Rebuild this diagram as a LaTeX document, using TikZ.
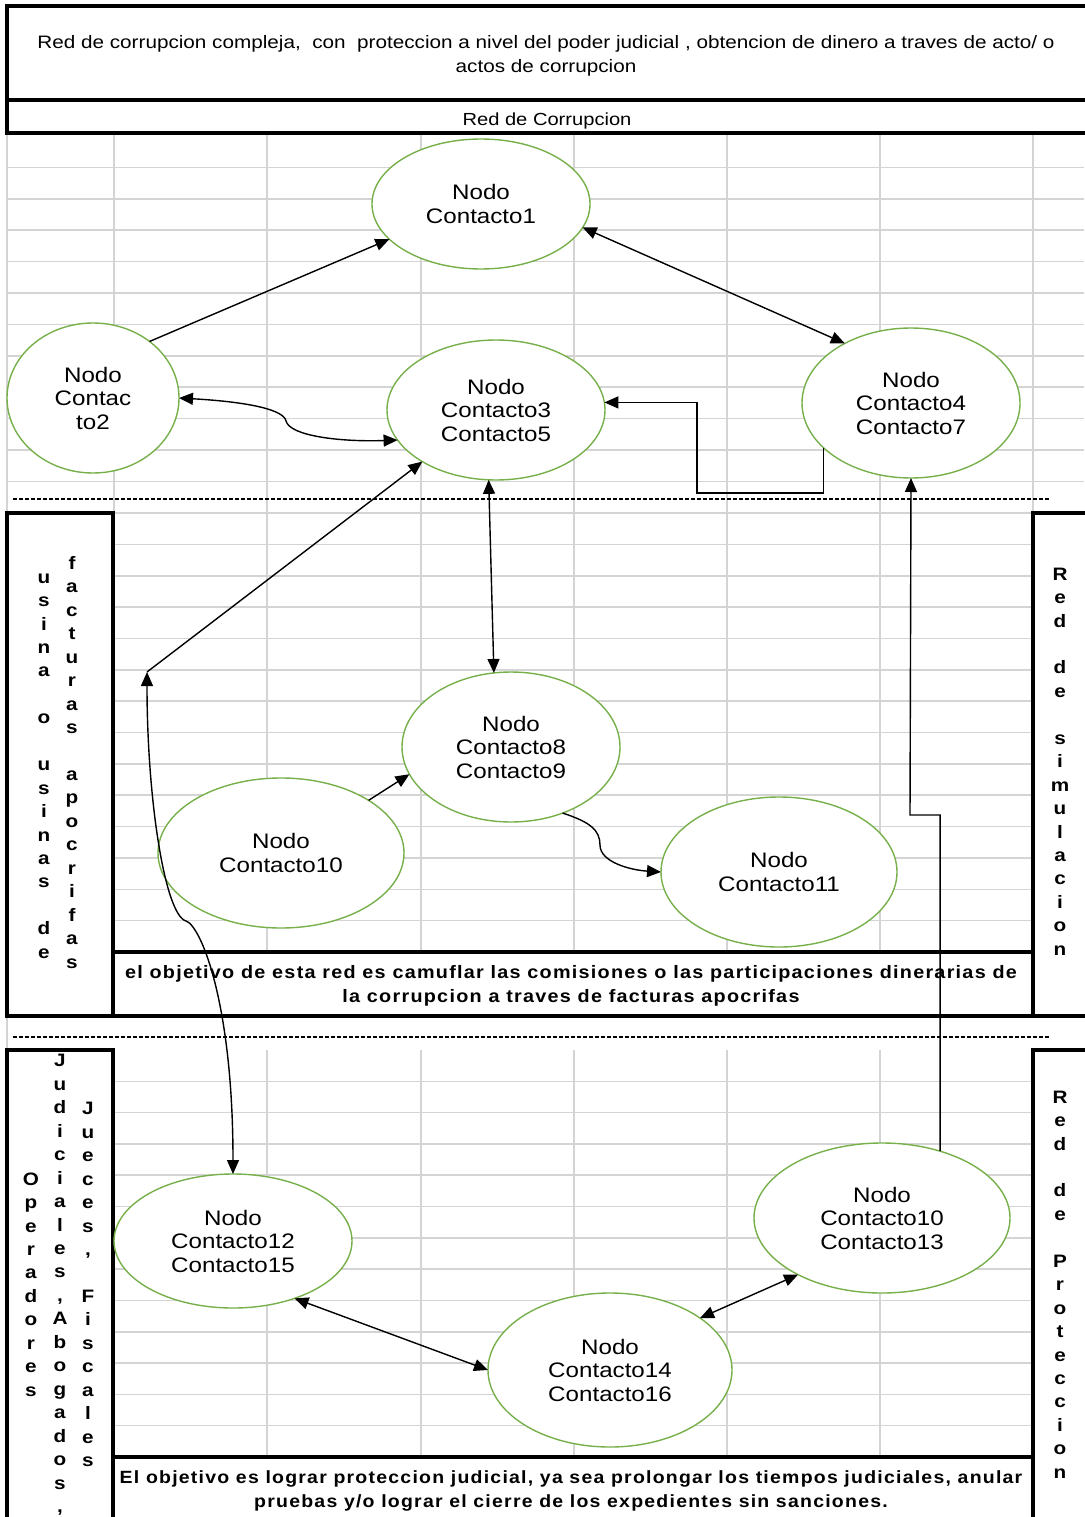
\documentclass[tikz,border=0pt]{standalone}
\usepackage{fontspec}
\setmainfont{Liberation Sans}[FakeStretch=1.15]
\newfontfamily\capfont{Liberation Sans}[FakeStretch=1.1,LetterSpace=7]
\usetikzlibrary{shapes.geometric,arrows.meta}
\definecolor{verdenodo}{RGB}{119,176,74}
\definecolor{gris}{RGB}{212,212,212}
\tikzset{
  rejilla/.style={draw=gris, line width=1.6pt},
  caja/.style={draw=black, line width=3.4pt},
  corte/.style={draw=black, line width=1.6pt, dash pattern=on 4pt off 2pt},
  nodo/.style={ellipse, draw=verdenodo, line width=1.4pt, fill=white,
    inner sep=0pt, outer sep=0pt, align=center,
    font=\fontsize{21}{23.5}\selectfont},
  letras/.style={inner sep=0pt, align=center,
    font=\bfseries\fontsize{18}{23.45}\selectfont},
  leyenda/.style={inner sep=0pt, align=center,
    font=\capfont\bfseries\fontsize{18}{24}\selectfont},
  flecha/.style={line width=1.4pt}
}
\begin{document}
\begin{tikzpicture}[x=1pt, y=-1pt, >={Triangle[length=14pt,width=12pt]}]
\useasboundingbox (0,0) rectangle (1084,1517);
% rejilla de la hoja
\foreach \k in {1,...,12}
  \draw[rejilla] (7,136+31.4*\k) -- (1084,136+31.4*\k);
\foreach \x in {7,114,267,421,574,727,880,1033}
  \draw[rejilla] (\x,133) -- (\x,513);
\foreach \k in {1,...,13}
  \draw[rejilla] (113,513+31.36*\k) -- (1033,513+31.36*\k);
\foreach \k in {1,...,12}
  \draw[rejilla] (113,1050+31.3*\k) -- (1033,1050+31.3*\k);
\foreach \x in {267,421,574,727,880} {
  \draw[rejilla] (\x,513) -- (\x,952);
  \draw[rejilla] (\x,1050) -- (\x,1457);
}
\draw[rejilla] (7,1016) -- (7,1050);

% cajas
\draw[caja] (7,6) rectangle (1090,100);
\draw[caja] (7,100) rectangle (1090,133);
\draw[corte] (13,499) -- (1050,499);
\draw[corte] (13,1037) -- (1050,1037);
\draw[caja, fill=white] (7,513) rectangle (113,1016);
\draw[caja, fill=white] (1033,513) rectangle (1090,1016);
\draw[caja, fill=white] (113,952) rectangle (1033,1016);
\draw[caja, fill=white] (7,1050) rectangle (113,1530);
\draw[caja, fill=white] (1033,1050) rectangle (1090,1530);
\draw[caja, fill=white] (113,1457) rectangle (1033,1530);

% textos
\node[align=center, font=\fontsize{18}{24}\selectfont] (titulo) at (546,56)
  {Red de corrupcion compleja,\ \ con\ \ proteccion a nivel del poder judicial , obtencion de dinero a traves de acto/ o\\actos de corrupcion};
\node[font=\fontsize{17.5}{20}\selectfont] (subtitulo) at (547,121) {Red de Corrupcion};
\node[leyenda] (objetivo1) at (571,986)
  {el objetivo de esta red es camuflar las comisiones o las participaciones dinerarias de\\la corrupcion a traves de facturas apocrifas};
\node[leyenda, font=\capfont\bfseries\fontsize{17.7}{24}\selectfont] (objetivo2) at (571,1491)
  {El objetivo es lograr proteccion judicial, ya sea prolongar los tiempos judiciales, anular\\pruebas y/o lograr el cierre de los expedientes sin sanciones.};
\node[letras] (usina) at (44,766)
  {\strut u\\s\\i\\n\\a\\~\\o\\~\\u\\s\\i\\n\\a\\s\\~\\d\\e\strut};
\node[letras] (facturas) at (72,764)
  {\strut f\\a\\c\\t\\u\\r\\a\\s\\~\\a\\p\\o\\c\\r\\i\\f\\a\\s\strut};
\node[letras] (simulacion) at (1060,763)
  {\strut R\\e\\d\\~\\d\\e\\~\\s\\i\\m\\u\\l\\a\\c\\i\\o\\n\strut};
\node[letras] (operadores) at (31,1286)
  {\strut O\\p\\e\\r\\a\\d\\o\\r\\e\\s\strut};
\node[letras] (judiciales) at (60,1285)
  {\strut J\\u\\d\\i\\c\\i\\a\\l\\e\\s\\,\\A\\b\\o\\g\\a\\d\\o\\s\\,\strut};
\node[letras] (jueces) at (88,1286)
  {\strut J\\u\\e\\c\\e\\s\\,\\~\\F\\i\\s\\c\\a\\l\\e\\s\strut};
\node[letras] (proteccion) at (1060,1286)
  {\strut R\\e\\d\\~\\d\\e\\~\\P\\r\\o\\t\\e\\c\\c\\i\\o\\n\strut};

% nodos
\node[nodo, minimum width=218pt, minimum height=130pt] (nodo1) at (481,204) {Nodo\\Contacto1};
\node[nodo, minimum width=172pt, minimum height=150pt] (nodo2) at (93,398) {Nodo\\Contac\\to2};
\node[nodo, minimum width=218pt, minimum height=140pt] (nodo35) at (496,410) {Nodo\\Contacto3\\Contacto5};
\node[nodo, minimum width=218pt, minimum height=150pt] (nodo47) at (911,403) {Nodo\\Contacto4\\Contacto7};
\node[nodo, minimum width=218pt, minimum height=150pt] (nodo89) at (511,747) {Nodo\\Contacto8\\Contacto9};
\node[nodo, minimum width=246pt, minimum height=150pt] (nodo10) at (281,853) {Nodo\\Contacto10};
\node[nodo, minimum width=236pt, minimum height=150pt] (nodo11) at (779,872) {Nodo\\Contacto11};
\node[nodo, minimum width=238pt, minimum height=134pt] (nodo1215) at (233,1241) {Nodo\\Contacto12\\Contacto15};
\node[nodo, minimum width=256pt, minimum height=150pt] (nodo1013) at (882,1218) {Nodo\\Contacto10\\Contacto13};
\node[nodo, minimum width=244pt, minimum height=154pt] (nodo1416) at (610,1370) {Nodo\\Contacto14\\Contacto16};
\coordinate (codo) at (147,672);

% conexiones
\draw[flecha, ->] (nodo2.45) -- (nodo1.201);
\draw[flecha, <->] (nodo1.-13) -- (nodo47.138);
\draw[flecha, <->] (nodo2.east) .. controls (250,402) and (284,410) .. (286,421)
  .. controls (290,436) and (340,442) .. (nodo35.197);
\draw[flecha, ->] (nodo47.207) |- (697,493) |- (nodo35.4);
\draw[flecha, <->] (nodo35.264) -- (nodo89.103);
\draw[flecha, ->] (codo) -- (nodo35.215);
\draw[flecha, <->] (codo) .. controls (147,800) and (165,915) .. (186,921)
  .. controls (200,925) and (233,1000) .. (nodo1215.north);
\draw[flecha, ->] (nodo10.31) -- (nodo89.195);
\draw[flecha, ->] (nodo89.308) .. controls (590,822) and (600,830) .. (600,845)
  .. controls (600,862) and (630,870) .. (nodo11.west);
\draw[flecha, ->] (nodo1013.49) |- (910,815) -- (nodo47.south);
\draw[flecha, <->] (nodo1215.-43) -- (nodo1416.west);
\draw[flecha, <->] (nodo1416.30) -- (nodo1013.214);
\end{tikzpicture}
\end{document}
